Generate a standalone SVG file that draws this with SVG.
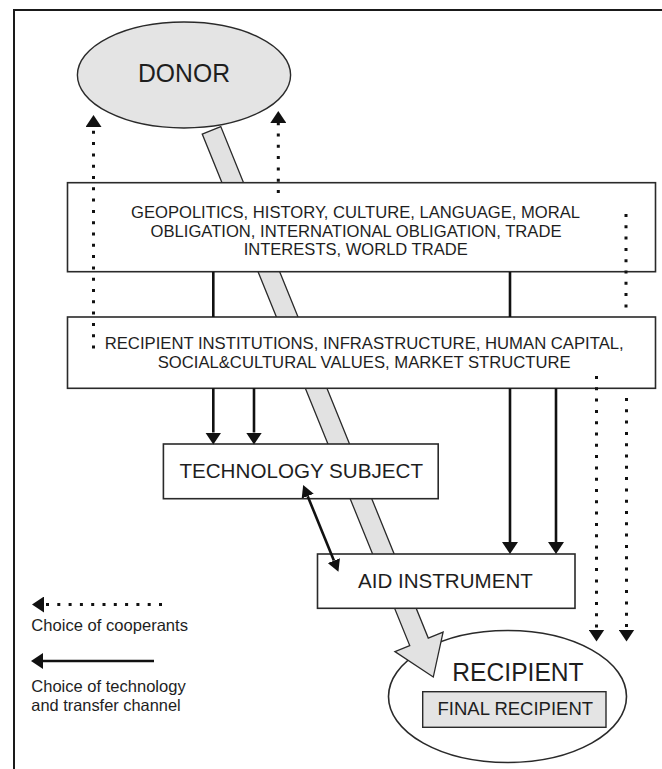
<svg xmlns="http://www.w3.org/2000/svg" width="662" height="769" viewBox="0 0 662 769">
  <style>
    text { font-family: "Liberation Sans", Arial, sans-serif; fill: #1e1e1e; text-anchor: middle; }
    .box { fill: #ffffff; stroke: #2a2a2a; stroke-width: 1.6; }
    .grey { fill: #e4e4e4; stroke: #2a2a2a; stroke-width: 1.4; }
    .flow { fill: #e2e2e2; stroke: #2a2a2a; stroke-width: 1.3; stroke-linejoin: miter; }
    .solid { fill: none; stroke: #111111; stroke-width: 2.6; }
    .dotted { fill: none; stroke: #111111; stroke-width: 3; stroke-dasharray: 3 8.3; }
    .legend { text-anchor: start; font-size: 16.5px; }
    .t16 { font-size: 16.5px; }
  </style>
  <defs>
    <marker id="head" markerUnits="userSpaceOnUse" markerWidth="12" markerHeight="16" viewBox="0 -8 12 16" refX="0" refY="0" orient="auto">
      <path d="M0,-8 L12,0 L0,8 z" fill="#111111"/>
    </marker>
    <marker id="headS" markerUnits="userSpaceOnUse" markerWidth="12" markerHeight="13" viewBox="0 -6.5 12 13" refX="0" refY="0" orient="auto-start-reverse">
      <path d="M0,-6.5 L12,0 L0,6.5 z" fill="#111111"/>
    </marker>
  </defs>

  <rect x="0" y="0" width="662" height="769" fill="#ffffff"/>

  <!-- outer frame -->
  <path d="M14,769 L14,10 L662,10" fill="none" stroke="#1a1a1a" stroke-width="2"/>

  <!-- recipient (drawn first so the flow arrow sits over its outline) -->
  <g id="recipient">
    <ellipse cx="507.5" cy="696.5" rx="119" ry="66" class="box" stroke-width="1.4"/>
    <text x="518" y="680.7" font-size="26.5" textLength="131.3" lengthAdjust="spacingAndGlyphs">RECIPIENT</text>
    <g id="final-recipient">
      <rect x="422.7" y="691.7" width="183.3" height="35.6" class="grey"/>
      <text x="515.3" y="715" font-size="18.5">FINAL RECIPIENT</text>
    </g>
  </g>

  <!-- broad aid flow from donor to recipient -->
  <g id="aid-flow">
    <polygon class="flow" transform="translate(211.5,130.3) rotate(-22.08)"
             points="-10,0 10,0 10,552 26,552 0,590 -26,552 -10,552"/>
  </g>

  <g id="donor">
    <ellipse cx="184" cy="75" rx="106.6" ry="53" class="grey" stroke-width="1.3"/>
    <text x="184" y="81.7" font-size="26" textLength="92" lengthAdjust="spacingAndGlyphs">DONOR</text>
  </g>

  <g id="geopolitics">
    <rect x="67.5" y="182.7" width="588" height="89" class="box"/>
    <text class="t16" x="355.5" y="218" textLength="449" lengthAdjust="spacingAndGlyphs">GEOPOLITICS, HISTORY, CULTURE, LANGUAGE, MORAL</text>
    <text class="t16" x="356" y="236.5" textLength="411" lengthAdjust="spacingAndGlyphs">OBLIGATION, INTERNATIONAL OBLIGATION, TRADE</text>
    <text class="t16" x="355.7" y="255" textLength="224" lengthAdjust="spacingAndGlyphs">INTERESTS, WORLD TRADE</text>
  </g>

  <g id="recipient-institutions">
    <rect x="67.5" y="317" width="588" height="71.3" class="box"/>
    <text class="t16" x="364.2" y="349.3" textLength="519" lengthAdjust="spacingAndGlyphs">RECIPIENT INSTITUTIONS, INFRASTRUCTURE, HUMAN CAPITAL,</text>
    <text class="t16" x="364.2" y="368.3" textLength="413" lengthAdjust="spacingAndGlyphs">SOCIAL&amp;CULTURAL VALUES, MARKET STRUCTURE</text>
  </g>

  <g id="technology-subject">
    <rect x="163.4" y="444" width="274.8" height="54.7" class="box"/>
    <text x="301.2" y="477.7" font-size="20.5" textLength="243.6" lengthAdjust="spacingAndGlyphs">TECHNOLOGY SUBJECT</text>
  </g>

  <g id="aid-instrument">
    <rect x="317.5" y="554" width="257.5" height="54.3" class="box"/>
    <text x="445.4" y="588.3" font-size="20.5" textLength="174.8" lengthAdjust="spacingAndGlyphs">AID INSTRUMENT</text>
  </g>

  <g id="connectors">
    <!-- choice of technology and transfer channel -->
    <line class="solid" x1="213.3" y1="272" x2="213.3" y2="317"/>
    <line class="solid" x1="510" y1="272" x2="510" y2="317"/>
    <line class="solid" x1="213.3" y1="388.3" x2="213.3" y2="432.5" marker-end="url(#head)"/>
    <line class="solid" x1="254" y1="388.3" x2="254" y2="432.5" marker-end="url(#head)"/>
    <line class="solid" x1="510" y1="388.3" x2="510" y2="542" marker-end="url(#head)"/>
    <line class="solid" x1="556" y1="388.3" x2="556" y2="542" marker-end="url(#head)"/>
    <line class="solid" x1="307.7" y1="496.2" x2="333.9" y2="560.6" marker-start="url(#headS)" marker-end="url(#headS)"/>

    <!-- choice of cooperants -->
    <line class="dotted" x1="93.5" y1="348.5" x2="93.5" y2="127" marker-end="url(#head)"/>
    <line class="dotted" x1="278.3" y1="193" x2="278.3" y2="123" marker-end="url(#head)"/>
    <line class="dotted" x1="626" y1="214" x2="626" y2="310"/>
    <line class="dotted" x1="596.5" y1="376" x2="596.5" y2="629.5" marker-end="url(#head)"/>
    <line class="dotted" x1="626.5" y1="398" x2="626.5" y2="629.5" marker-end="url(#head)"/>
  </g>

  <g id="legend">
    <line class="dotted" x1="162" y1="604.5" x2="44" y2="604.5" stroke-dasharray="3 7.8" marker-end="url(#head)"/>
    <text class="legend" x="31.3" y="630.7" textLength="156.7" lengthAdjust="spacingAndGlyphs">Choice of cooperants</text>
    <line class="solid" x1="154" y1="661" x2="43" y2="661" stroke-width="3" marker-end="url(#head)"/>
    <text class="legend" x="31.3" y="691.7" textLength="154.4" lengthAdjust="spacingAndGlyphs">Choice of technology</text>
    <text class="legend" x="31.3" y="710.5" textLength="149.4" lengthAdjust="spacingAndGlyphs">and transfer channel</text>
  </g>
</svg>
